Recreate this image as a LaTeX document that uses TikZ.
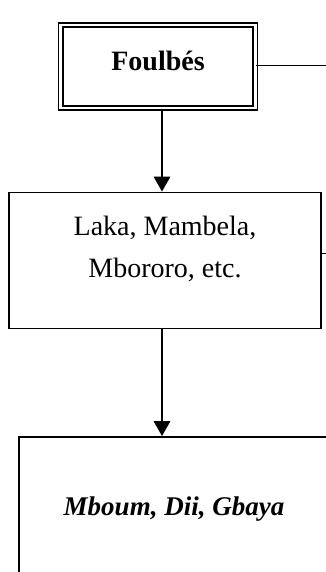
\documentclass[tikz,border=0pt]{standalone}
\usepackage{fontspec}
\setmainfont{Liberation Serif}
\usetikzlibrary{arrows.meta}
\begin{document}
\begin{tikzpicture}[x=1pt,y=1pt,
  box/.style={draw, line width=1.6pt, inner sep=0pt},
  arr/.style={line width=2.8pt, -{Triangle[width=16pt,length=15pt]}},
  stub/.style={line width=1.3pt},
  txt/.style={inner sep=0pt, anchor=base, font=\fontsize{28}{42}\selectfont}]
\useasboundingbox (0,0) rectangle (326,-572);
% Foulbes box (double border)
\node[draw, double, line width=1.8pt, double distance=2.6pt, inner sep=0pt,
      minimum width=194.5pt, minimum height=83pt] (foul) at (158,-66.5) {};
\node[txt, font=\fontsize{28}{34}\selectfont\bfseries] (foultext) at (158,-70.5) {Foulbés};
% Laka box
\node[box, minimum width=312pt, minimum height=136pt] (laka) at (165,-260.5) {};
\node[txt] (laka1) at (165,-235) {Laka, Mambela,};
\node[txt] (laka2) at (165,-277.5) {Mbororo, etc.};
% Bottom box
\node[box, minimum width=312pt, minimum height=144pt] (mboum) at (175,-509) {};
\node[txt, font=\fontsize{27}{34}\selectfont\bfseries\itshape] (mboumtext) at (174,-515) {Mboum, Dii, Gbaya};
% side stubs
\coordinate (r1) at (340,-65.7);
\coordinate (r2) at (340,-253.3);
\draw[stub] (foul.east |- r1) -- (r1);
\draw[line width=1.1pt] (laka.east |- r2) -- (r2);
% arrows
\coordinate (ax) at (162,0);
\draw[arr] (foul.south -| ax) -- (laka.north -| ax);
\draw[arr] (laka.south -| ax) -- (mboum.north -| ax);
\end{tikzpicture}
\end{document}
